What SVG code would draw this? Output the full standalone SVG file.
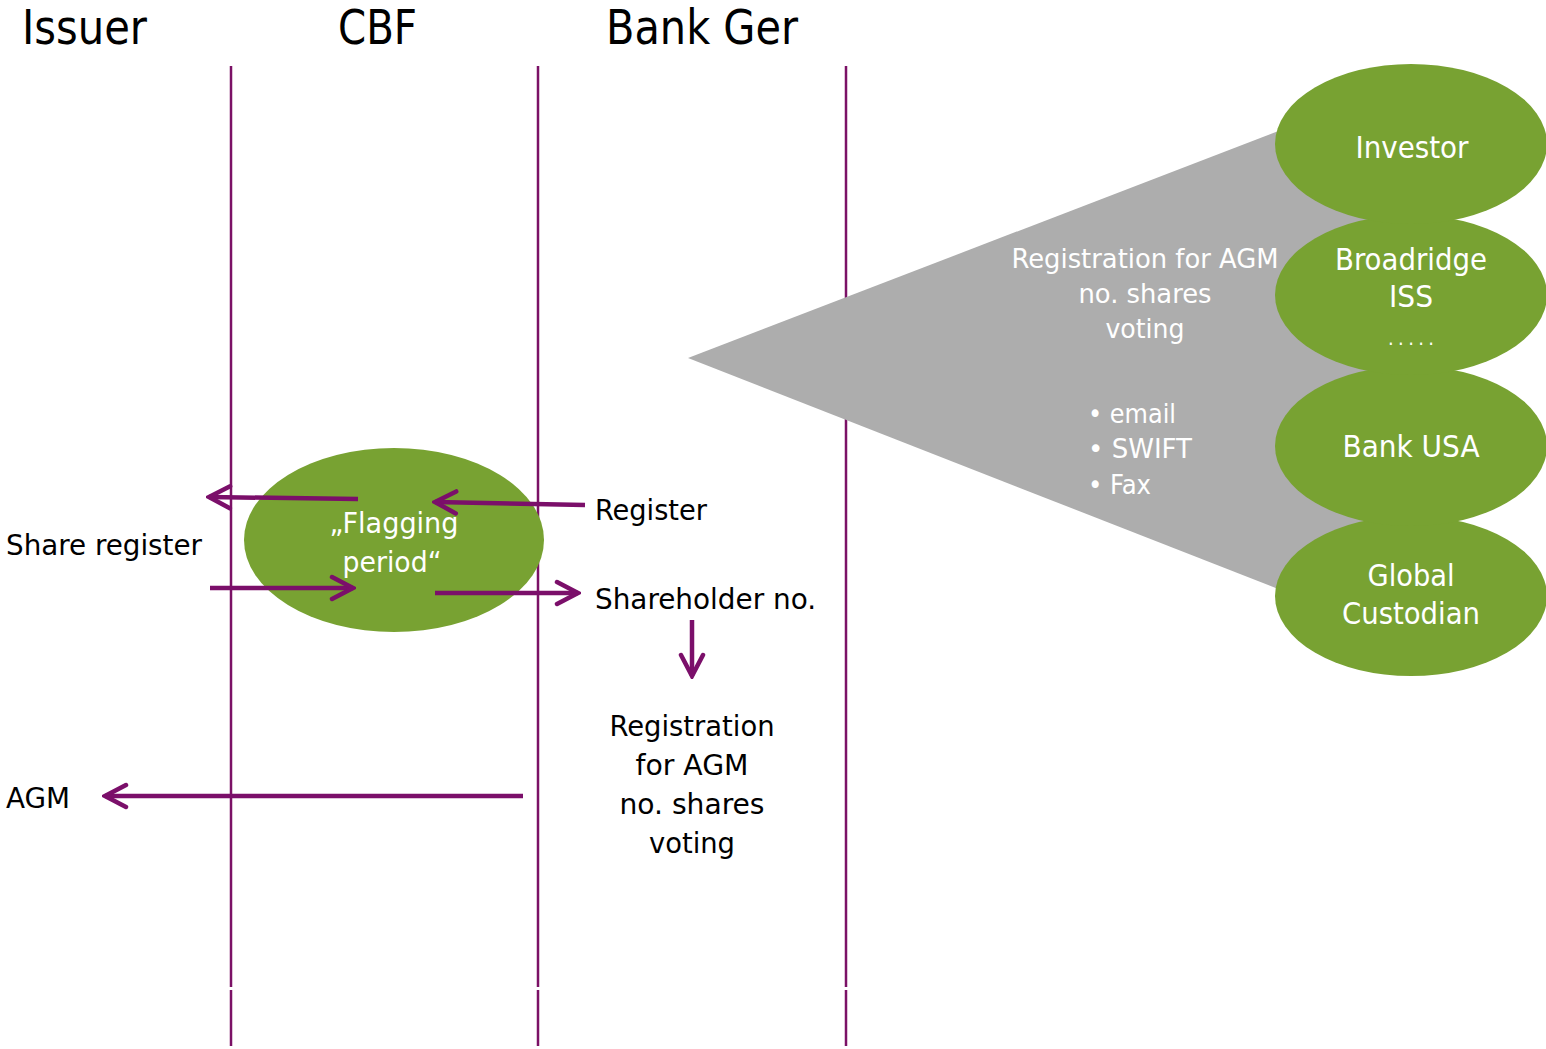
<svg xmlns="http://www.w3.org/2000/svg" width="1546" height="1049" viewBox="0 0 1546 1049">
  <style>
    text { font-family: "DejaVu Sans Condensed", "DejaVu Sans", sans-serif; }
    .hdr { font-size: 48px; fill: #000; }
    .lbl { font-size: 29px; fill: #000; }
    .wl { font-size: 30px; fill: #fff; }
    .wf { font-size: 29px; fill: #fff; }
    .wg { font-size: 27px; fill: #fff; }
    .mid { text-anchor: middle; }
    .lane { stroke: #7b1166; stroke-width: 2.5; fill: none; }
    .flow { stroke: #7b0f6a; stroke-width: 4.5; fill: none; }
    .green { fill: #78a232; }
  </style>
  <defs>
    <marker id="chev" viewBox="0 0 28 28" refX="25" refY="14" markerWidth="28" markerHeight="28" markerUnits="userSpaceOnUse" orient="auto">
      <path d="M4,3 L25,14 L4,25" fill="none" stroke="#7b0f6a" stroke-width="4.5" stroke-linecap="round" stroke-linejoin="miter"/>
    </marker>
  </defs>

  <rect width="1546" height="1049" fill="#fff"/>

  <!-- column headers -->
  <g id="headers">
    <text class="hdr" x="22" y="44" textLength="125" lengthAdjust="spacingAndGlyphs">Issuer</text>
    <text class="hdr" x="338" y="44" textLength="79" lengthAdjust="spacingAndGlyphs">CBF</text>
    <text class="hdr" x="606" y="44" textLength="192" lengthAdjust="spacingAndGlyphs">Bank Ger</text>
  </g>

  <!-- swim lane separators -->
  <g id="lanes">
    <path class="lane" d="M231,66 V987 M231,990 V1046"/>
    <path class="lane" d="M538,66 V987 M538,990 V1046"/>
    <path class="lane" d="M846,66 V987 M846,990 V1046"/>
  </g>

  <!-- communication channel wedge -->
  <g id="channel">
    <polygon points="688,358 1411,80 1411,641" fill="#adadad"/>
    <text class="wg mid" x="1145" y="268" textLength="267" lengthAdjust="spacingAndGlyphs">Registration for AGM</text>
    <text class="wg mid" x="1145" y="303" textLength="133" lengthAdjust="spacingAndGlyphs">no. shares</text>
    <text class="wg mid" x="1145" y="338" textLength="79" lengthAdjust="spacingAndGlyphs">voting</text>
    <text class="wg" x="1088" y="423" textLength="88" lengthAdjust="spacingAndGlyphs">• email</text>
    <text class="wg" x="1088" y="458" textLength="104" lengthAdjust="spacingAndGlyphs">• SWIFT</text>
    <text class="wg" x="1088" y="494" textLength="63" lengthAdjust="spacingAndGlyphs">• Fax</text>
  </g>

  <!-- foreign intermediaries chain -->
  <g id="global-custodian">
    <ellipse class="green" cx="1411" cy="596" rx="136" ry="80"/>
    <text class="wl mid" x="1411" y="586" textLength="87" lengthAdjust="spacingAndGlyphs">Global</text>
    <text class="wl mid" x="1411" y="624" textLength="138" lengthAdjust="spacingAndGlyphs">Custodian</text>
  </g>
  <g id="bank-usa">
    <ellipse class="green" cx="1411" cy="446" rx="136" ry="80"/>
    <text class="wl mid" x="1411" y="457" textLength="137" lengthAdjust="spacingAndGlyphs">Bank USA</text>
  </g>
  <g id="broadridge">
    <ellipse class="green" cx="1411" cy="295" rx="136" ry="80"/>
    <text class="wl mid" x="1411" y="270" textLength="152" lengthAdjust="spacingAndGlyphs">Broadridge</text>
    <text class="wl mid" x="1411" y="307" textLength="44" lengthAdjust="spacingAndGlyphs">ISS</text>
    <text class="mid" x="1411" y="345" font-size="20" fill="#fff" textLength="46" lengthAdjust="spacing">.....</text>
  </g>
  <g id="investor">
    <ellipse class="green" cx="1411" cy="144" rx="136" ry="80"/>
    <text class="wl mid" x="1412" y="158" textLength="113" lengthAdjust="spacingAndGlyphs">Investor</text>
  </g>

  <!-- flagging period -->
  <g id="flagging">
    <ellipse class="green" cx="394" cy="540" rx="150" ry="92"/>
    <text class="wf mid" x="394" y="533" textLength="129" lengthAdjust="spacingAndGlyphs">„Flagging</text>
    <text class="wf mid" x="392" y="572" textLength="99" lengthAdjust="spacingAndGlyphs">period“</text>
  </g>

  <!-- labels -->
  <g id="share-register"><text class="lbl" x="6" y="555" textLength="196" lengthAdjust="spacingAndGlyphs">Share register</text></g>
  <g id="register"><text class="lbl" x="595" y="520" textLength="112" lengthAdjust="spacingAndGlyphs">Register</text></g>
  <g id="shareholder-no"><text class="lbl" x="595" y="609" textLength="221" lengthAdjust="spacingAndGlyphs">Shareholder no.</text></g>
  <g id="registration">
    <text class="lbl mid" x="692" y="736" textLength="165" lengthAdjust="spacingAndGlyphs">Registration</text>
    <text class="lbl mid" x="692" y="775" textLength="113" lengthAdjust="spacingAndGlyphs">for AGM</text>
    <text class="lbl mid" x="692" y="814" textLength="145" lengthAdjust="spacingAndGlyphs">no. shares</text>
    <text class="lbl mid" x="692" y="853" textLength="86" lengthAdjust="spacingAndGlyphs">voting</text>
  </g>
  <g id="agm"><text class="lbl" x="6" y="808" textLength="64" lengthAdjust="spacingAndGlyphs">AGM</text></g>

  <!-- connectors -->
  <g id="connectors">
    <path class="flow" d="M358,499 L209,497" marker-end="url(#chev)"/>
    <path class="flow" d="M585,505 L435,502" marker-end="url(#chev)"/>
    <path class="flow" d="M210,588 L353,588" marker-end="url(#chev)"/>
    <path class="flow" d="M435,593 L578,593" marker-end="url(#chev)"/>
    <path class="flow" d="M692,620 L692,676" marker-end="url(#chev)"/>
    <path class="flow" d="M523,796 L105,796" marker-end="url(#chev)"/>
  </g>
</svg>
